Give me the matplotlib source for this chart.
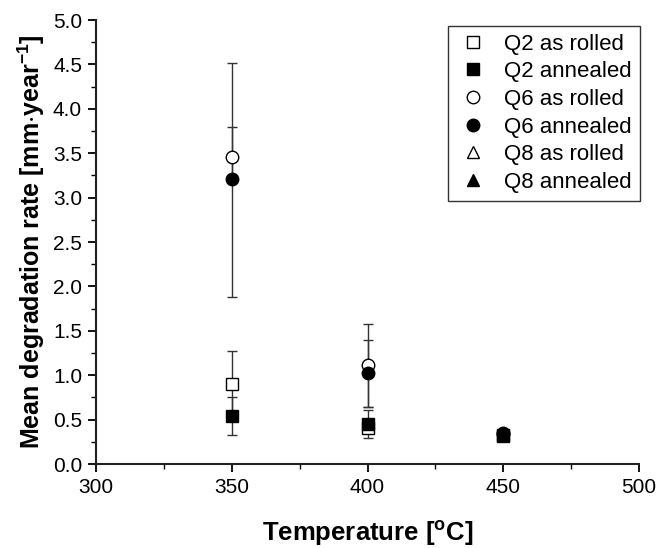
import matplotlib
matplotlib.use("Agg")
import matplotlib.pyplot as plt
from matplotlib.ticker import MultipleLocator, FormatStrFormatter

plt.rcParams["font.family"] = ["Liberation Sans", "DejaVu Sans"]

# annealing temperature [deg C]
temps = [350, 400, 450]

# mean degradation rate and error bars (lower, upper) per sample
q2_rolled = [0.90, 0.40, 0.32]
q2_rolled_err = [[0.37, 0.05, 0.02], [0.37, 0.05, 0.02]]
q2_annealed = [0.54, 0.45, 0.33]
q2_annealed_err = [[0.21, 0.16, 0.02], [0.21, 0.16, 0.02]]
q6_rolled = [3.46, 1.11, 0.34]
q6_rolled_err = [[1.58, 0.47, 0.02], [1.06, 0.47, 0.02]]
q6_annealed = [3.21, 1.02, 0.35]
q6_annealed_err = [[0.0, 0.38, 0.02], [0.58, 0.38, 0.02]]
q8_temps = [450]
q8_rolled = [0.33]
q8_rolled_err = [[0.02], [0.02]]
q8_annealed = [0.33]
q8_annealed_err = [[0.02], [0.02]]

series = [
    ("Q2 as rolled", temps, q2_rolled, q2_rolled_err, "s", "white"),
    ("Q2 annealed", temps, q2_annealed, q2_annealed_err, "s", "black"),
    ("Q6 as rolled", temps, q6_rolled, q6_rolled_err, "o", "white"),
    ("Q6 annealed", temps, q6_annealed, q6_annealed_err, "o", "black"),
    ("Q8 as rolled", q8_temps, q8_rolled, q8_rolled_err, "^", "white"),
    ("Q8 annealed", q8_temps, q8_annealed, q8_annealed_err, "^", "black"),
]

fig = plt.figure(figsize=(6.63, 5.48), dpi=100)
ax = fig.add_axes([96 / 663, 84 / 548, 543 / 663, 444 / 548])

handles = []
for label, x, y, err, marker, face in series:
    ax.errorbar(x, y, yerr=err, fmt="none", ecolor="#333333", elinewidth=1.0,
                capsize=3.3, capthick=1.0, zorder=2)
    h, = ax.plot(x, y, linestyle="none", marker=marker, markersize=9,
                 markerfacecolor=face, markeredgecolor="black",
                 markeredgewidth=1.0, label=label, zorder=3)
    handles.append(h)

ax.set_xlim(300, 500)
ax.set_ylim(0, 5.0)
ax.xaxis.set_major_locator(MultipleLocator(50))
ax.xaxis.set_minor_locator(MultipleLocator(25))
ax.yaxis.set_major_locator(MultipleLocator(0.5))
ax.yaxis.set_minor_locator(MultipleLocator(0.25))
ax.yaxis.set_major_formatter(FormatStrFormatter("%.1f"))

for side in ("top", "right"):
    ax.spines[side].set_visible(False)
for side in ("left", "bottom"):
    ax.spines[side].set_linewidth(1.5)
    ax.spines[side].set_color("#222222")

ax.tick_params(which="major", direction="out", length=6, width=1.3,
               labelsize=15, pad=4)
ax.tick_params(which="minor", direction="out", length=3.5, width=1.0)

ax.set_xlabel("Temperature [$\\mathregular{^{o}}$C]", fontsize=18.5,
              fontweight="bold", labelpad=16)
ax.set_ylabel("Mean degradation rate [mm$\\mathregular{\\cdot}$year$\\mathregular{^{-1}}$]",
              fontsize=18, fontweight="bold", labelpad=4)

leg = ax.legend(handles=handles, loc="upper right", bbox_to_anchor=(1.022, 1.012),
                fontsize=16, frameon=True, fancybox=False, edgecolor="black",
                handletextpad=0.6, borderpad=0.35, labelspacing=0.3,
                handlelength=1.6, markerscale=1.0)
leg.get_frame().set_linewidth(1.0)

fig.savefig("out.png", dpi=100)
